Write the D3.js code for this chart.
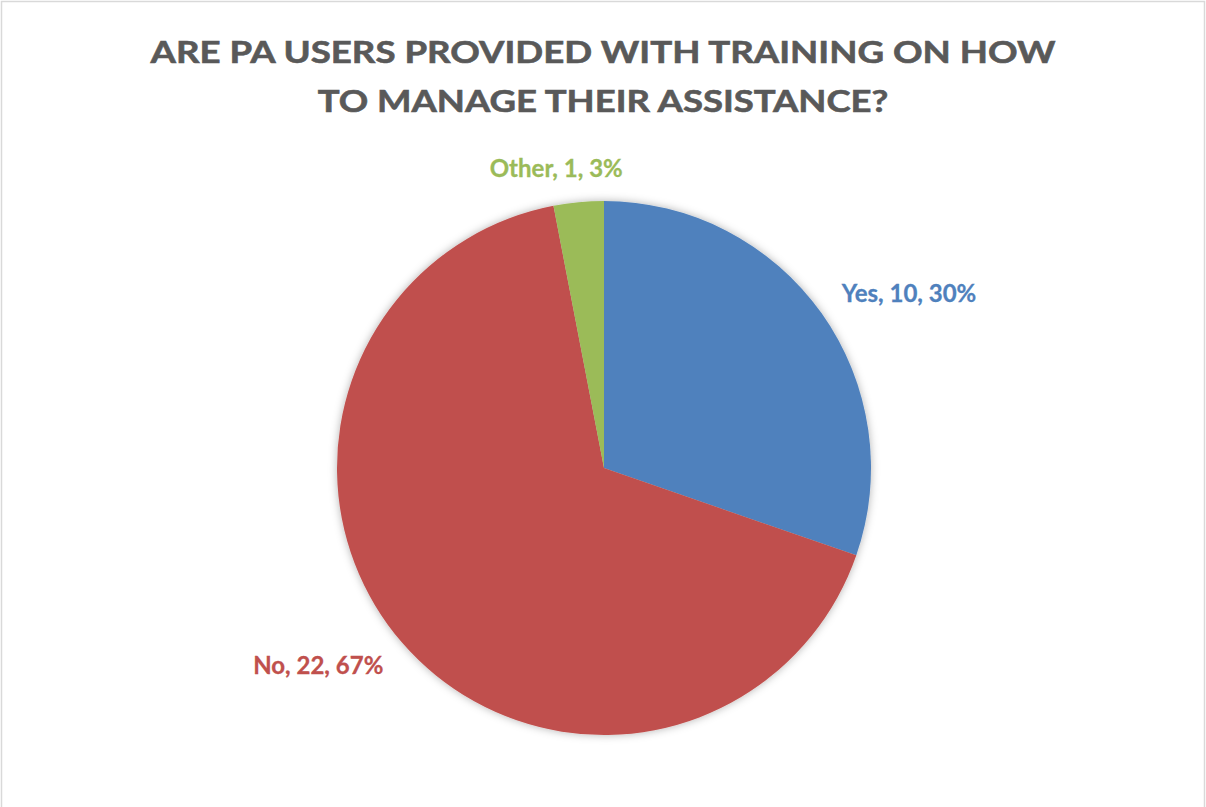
<!DOCTYPE html>
<html>
<head>
<meta charset="utf-8">
<script src="https://cdn.jsdelivr.net/npm/d3@7"></script>
<style>
  html, body { margin: 0; padding: 0; background: #fff; }
  svg { display: block; }
  text { font-family: Lato, "Open Sans", sans-serif; font-weight: 700; }
</style>
</head>
<body>
<div id="chart"></div>
<script>
// Data
const categories = ["Yes", "No", "Other"];
const counts = [10, 22, 1];
const percents = ["30%", "67%", "3%"];
const titleLines = ["ARE PA USERS PROVIDED WITH TRAINING ON HOW", "TO MANAGE THEIR ASSISTANCE?"];
const colors = ["#4F81BD", "#C0504D", "#9BBB59"];

const width = 1206, height = 807;
const cx = 604, cy = 468, radius = 267;

const svg = d3.select("#chart")
  .append("svg")
  .attr("width", width)
  .attr("height", height);

// chart area border
svg.append("rect")
  .attr("x", 1.5).attr("y", 1.5)
  .attr("width", width - 3).attr("height", height + 10)
  .attr("fill", "#fff")
  .attr("stroke", "#d9d9d9")
  .attr("stroke-width", 1.5);

// soft shadow under the pie
const defs = svg.append("defs");
const shadow = defs.append("filter")
  .attr("id", "pie-shadow")
  .attr("x", "-20%").attr("y", "-20%")
  .attr("width", "140%").attr("height", "140%");
shadow.append("feDropShadow")
  .attr("dx", 0).attr("dy", 0)
  .attr("stdDeviation", 4)
  .attr("flood-color", "#000")
  .attr("flood-opacity", 0.3);

// title: size set by cap height, then squeezed horizontally to the original width
const titleSize = 31;
const titleWidths = [905, 571];
const titleBaselines = [63, 112];
const title = svg.append("g");
titleLines.forEach((line, i) => {
  const t = title.append("text")
    .attr("text-anchor", "middle")
    .attr("fill", "#595959")
    .attr("font-size", titleSize)
    .attr("stroke", "#595959")
    .attr("stroke-width", 0.6)
    .text(line);
  const w = t.node().getComputedTextLength();
  t.attr("transform", `translate(${cx - 1},${titleBaselines[i]}) scale(${titleWidths[i] / w},1)`);
});

const data = categories.map((c, i) => ({ name: c, value: counts[i], pct: percents[i], color: colors[i] }));

const pie = d3.pie()
  .sort(null)
  .value(d => d.value);

const arc = d3.arc()
  .innerRadius(0)
  .outerRadius(radius);

const arcs = pie(data);

const g = svg.append("g")
  .attr("transform", `translate(${cx},${cy})`);

g.append("g")
  .attr("filter", "url(#pie-shadow)")
  .selectAll("path")
  .data(arcs)
  .join("path")
  .attr("d", arc)
  .attr("fill", d => d.data.color);

// outside-end labels
const labelR = radius + 25;
const labelSize = 24;
g.selectAll("text.lbl")
  .data(arcs)
  .join("text")
  .attr("class", "lbl")
  .attr("font-size", labelSize)
  .attr("fill", d => d.data.color)
  .attr("stroke", d => d.data.color)
  .attr("stroke-width", 0.3)
  .each(function (d) {
    const a = (d.startAngle + d.endAngle) / 2;
    const s = Math.sin(a), c = Math.cos(a);
    const px = s * labelR, py = -c * labelR;
    const anchor = s > 0.3 ? "start" : s < -0.3 ? "end" : "middle";
    d3.select(this)
      .attr("x", anchor === "middle" ? px - 20 : px)
      .attr("y", py - c * 9)
      .attr("dy", "0.35em")
      .attr("text-anchor", anchor)
      .text(`${d.data.name}, ${d.data.value}, ${d.data.pct}`);
  });
</script>
</body>
</html>
